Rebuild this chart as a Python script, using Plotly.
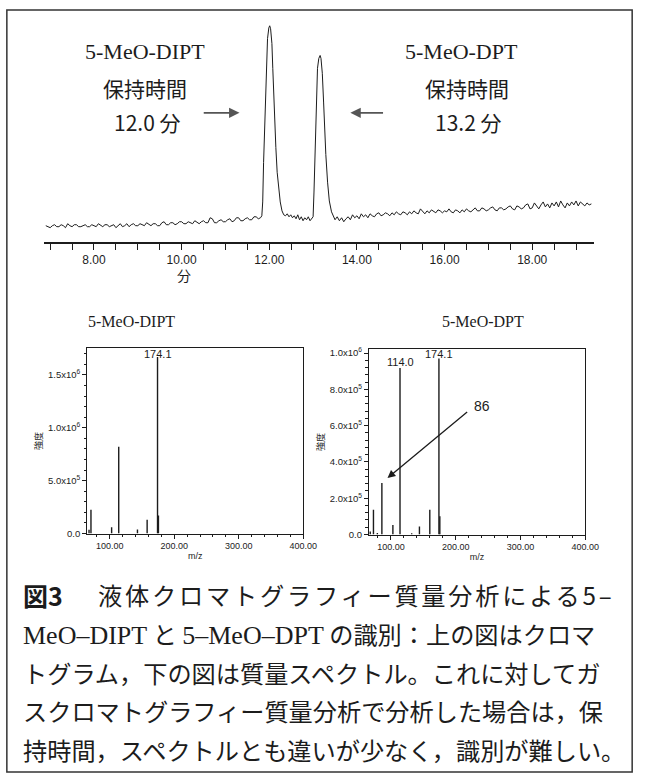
import plotly.graph_objects as go

W, H = 654, 782

# ---------------- data ----------------
# chromatogram: retention time (min) and signal (arbitrary units)
chrom_time = [
    6.90, 6.95, 7.00, 7.05, 7.10, 7.15, 7.20, 7.25, 7.30, 7.35,
    7.40, 7.45, 7.50, 7.55, 7.60, 7.65, 7.70, 7.75, 7.80, 7.85,
    7.90, 7.95, 8.00, 8.05, 8.10, 8.15, 8.20, 8.25, 8.30, 8.35,
    8.40, 8.45, 8.50, 8.55, 8.60, 8.65, 8.70, 8.75, 8.80, 8.85,
    8.90, 8.95, 9.00, 9.05, 9.10, 9.15, 9.20, 9.25, 9.30, 9.35,
    9.40, 9.45, 9.50, 9.55, 9.60, 9.65, 9.70, 9.75, 9.80, 9.85,
    9.90, 9.95, 10.00, 10.05, 10.10, 10.15, 10.20, 10.25, 10.30, 10.35,
    10.40, 10.45, 10.50, 10.55, 10.60, 10.65, 10.70, 10.75, 10.80, 10.85,
    10.90, 10.95, 11.00, 11.05, 11.10, 11.15, 11.20, 11.25, 11.30, 11.35,
    11.40, 11.45, 11.50, 11.55, 11.60, 11.65, 11.70, 11.75, 11.80,
    11.83, 11.85, 11.87, 11.90, 11.93, 11.96, 11.99, 12.01, 12.03, 12.06,
    12.08, 12.10, 12.12, 12.15, 12.18, 12.21, 12.25, 12.29, 12.33,
    12.37, 12.41, 12.45, 12.49, 12.53, 12.57, 12.61, 12.65, 12.69, 12.73,
    12.77, 12.81, 12.85, 12.89, 12.93, 12.97,
    13.00, 13.02, 13.04, 13.07, 13.10, 13.13, 13.16, 13.18, 13.21, 13.24,
    13.27, 13.29, 13.33, 13.37, 13.42, 13.46,
    13.50, 13.55, 13.60, 13.65, 13.70, 13.75, 13.80, 13.85, 13.90, 13.95,
    14.00, 14.05, 14.10, 14.15, 14.20, 14.25, 14.30, 14.35, 14.40, 14.45,
    14.50, 14.55, 14.60, 14.65, 14.70, 14.75, 14.80, 14.85, 14.90, 14.95,
    15.00, 15.05, 15.10, 15.15, 15.20, 15.25, 15.30, 15.35, 15.40, 15.45,
    15.50, 15.55, 15.60, 15.65, 15.70, 15.75, 15.80, 15.85, 15.90, 15.95,
    16.00, 16.05, 16.10, 16.15, 16.20, 16.25, 16.30, 16.35, 16.40, 16.45,
    16.50, 16.55, 16.60, 16.65, 16.70, 16.75, 16.80, 16.85, 16.90, 16.95,
    17.00, 17.05, 17.10, 17.15, 17.20, 17.25, 17.30, 17.35, 17.40, 17.45,
    17.50, 17.55, 17.60, 17.65, 17.70, 17.75, 17.80, 17.85, 17.90, 17.95,
    18.00, 18.05, 18.10, 18.15, 18.20, 18.25, 18.30, 18.35, 18.40, 18.45,
    18.50, 18.55, 18.60, 18.65, 18.70, 18.75, 18.80, 18.85, 18.90, 18.95,
    19.00, 19.05, 19.10, 19.15, 19.20, 19.25, 19.30, 19.35,
]
chrom_signal = [
    16, 15, 14, 16, 17, 15, 15, 17, 16, 14,
    18, 16, 15, 17, 17, 15, 15, 16, 17, 15,
    15, 17, 16, 15, 18, 16, 15, 17, 17, 15,
    16, 17, 14, 16, 18, 15, 16, 18, 15, 17,
    18, 16, 16, 18, 17, 16, 19, 17, 16, 18,
    18, 16, 16, 19, 20, 17, 17, 19, 19, 17,
    18, 20, 20, 18, 18, 20, 19, 18, 21, 19,
    18, 20, 21, 19, 19, 24, 23, 19, 19, 21,
    22, 20, 20, 22, 23, 20, 21, 24, 24, 21,
    21, 23, 24, 22, 22, 25, 25, 23, 24,
    26, 40, 80, 121, 170, 205, 216, 218, 215, 200,
    175, 145, 121, 95, 70, 54, 40, 31, 27,
    26, 28, 25, 27, 24, 26, 23, 27, 22, 25,
    21, 24, 22, 25, 21, 24,
    25, 50, 88, 140, 175, 185, 188, 185, 170, 140,
    105, 88, 60, 41, 30, 26,
    22, 25, 21, 24, 20, 23, 25, 22, 27, 24,
    26, 23, 28, 25, 27, 24, 28, 26, 25, 28,
    29, 26, 27, 29, 28, 26, 29, 27, 30, 28,
    27, 30, 29, 27, 30, 28, 31, 29, 28, 33,
    30, 28, 31, 29, 32, 30, 29, 32, 31, 29,
    31, 30, 33, 30, 29, 32, 31, 29, 32, 30,
    33, 31, 30, 32, 34, 31, 31, 34, 33, 31,
    32, 34, 35, 32, 31, 34, 34, 32, 33, 35,
    36, 33, 32, 36, 35, 33, 34, 37, 38, 33,
    34, 39, 36, 33, 37, 40, 35, 38, 34, 39,
    36, 40, 35, 41, 37, 34, 39, 36, 40, 37,
    41, 36, 40, 38, 36, 39, 37, 38,
]
chrom_tickvals = [8, 10, 12, 14, 16, 18]
chrom_ticktext = ["8.00", "10.00", "12.00", "14.00", "16.00", "18.00"]

# mass spectra (m/z, intensity)
dipt_mz = [68, 71, 103, 114, 143, 158, 174.1, 175.5]
dipt_int = [3.5e4, 2.25e5, 6.0e4, 8.2e5, 3.8e4, 1.3e5, 1.67e6, 1.7e5]

dpt_mz = [68, 73, 79, 86, 103, 114, 132, 144, 160, 174.1, 175.5]
dpt_int = [1.6e4, 1.36e5, 8e3, 2.84e5, 5.3e4, 9.18e5, 7e3, 4.4e4, 1.36e5, 9.7e5, 1.0e5]

ms_tickvals = [100, 200, 300, 400]
ms_ticktext = ["100.00", "200.00", "300.00", "400.00"]
dipt_yvals = [0, 5e5, 1e6, 1.5e6]
dipt_ytext = ["0.0", "5.0x10<sup>5</sup>", "1.0x10<sup>6</sup>", "1.5x10<sup>6</sup>"]
dpt_yvals = [0, 2e5, 4e5, 6e5, 8e5, 1e6]
dpt_ytext = ["0.0", "2.0x10<sup>5</sup>", "4.0x10<sup>5</sup>", "6.0x10<sup>5</sup>",
             "8.0x10<sup>5</sup>", "1.0x10<sup>6</sup>"]

caption_head = "図3"
caption_lines = [
    "液体クロマトグラフィー質量分析による5–",
    "<span style='font-family:Liberation Serif;font-size:26px'>MeO–DIPT</span> と "
    "<span style='font-family:Liberation Serif;font-size:26px'>5–MeO–DPT</span> の識別：上の図はクロマ",
    "トグラム，下の図は質量スペクトル。これに対してガ",
    "スクロマトグラフィー質量分析で分析した場合は，保",
    "持時間，スペクトルとも違いが少なく，識別が難しい。",
]

# ---------------- helpers ----------------
def px(x):
    return x / W


def py(y):
    return 1 - y / H


def sticks(mz, inten):
    xs, ys = [], []
    for m, v in zip(mz, inten):
        xs += [m, m, None]
        ys += [0, v, None]
    return xs, ys


INK = "#1c1c1c"
SANS = "Liberation Sans, Arial, sans-serif"
NARROW = "Liberation Sans Narrow, Arial Narrow, Liberation Sans, sans-serif"
SERIF = "Liberation Serif, Times New Roman, serif"
CJK = "Noto Sans CJK JP, Noto Sans, sans-serif"
CAP = 24.2

fig = go.Figure()

fig.add_trace(go.Scatter(x=chrom_time, y=chrom_signal, mode="lines",
                         line=dict(color=INK, width=1), xaxis="x", yaxis="y",
                         hoverinfo="skip", showlegend=False))
sx, sy = sticks(dipt_mz, dipt_int)
fig.add_trace(go.Scatter(x=sx, y=sy, mode="lines", line=dict(color=INK, width=1.4),
                         xaxis="x2", yaxis="y2", hoverinfo="skip", showlegend=False))
sx, sy = sticks(dpt_mz, dpt_int)
fig.add_trace(go.Scatter(x=sx, y=sy, mode="lines", line=dict(color=INK, width=1.4),
                         xaxis="x3", yaxis="y3", hoverinfo="skip", showlegend=False))


def ms_xaxis(dom, anchor, rng):
    return dict(domain=dom, anchor=anchor, range=rng, showline=True, mirror=True,
                linecolor=INK, linewidth=1, ticks="outside", ticklen=4, tickwidth=1,
                tickcolor=INK, tickvals=ms_tickvals, ticktext=ms_ticktext,
                tickfont=dict(family=NARROW, size=9, color=INK),
                showgrid=False, zeroline=False,
                minor=dict(dtick=20, tick0=0, ticks="outside", ticklen=2.5,
                           tickcolor=INK, showgrid=False),
                title=dict(text="m/z", font=dict(family=SANS, size=9, color=INK),
                           standoff=2))


def ms_yaxis(dom, anchor, rng, vals, texts, minor_dt):
    return dict(domain=dom, anchor=anchor, range=rng, showline=True, mirror=True,
                linecolor=INK, linewidth=1, ticks="outside", ticklen=4, tickwidth=1,
                tickcolor=INK, tickvals=vals, ticktext=texts,
                tickfont=dict(family=SANS, size=9.5, color=INK),
                showgrid=False, zeroline=False,
                minor=dict(dtick=minor_dt, tick0=0, ticks="outside", ticklen=2.5,
                           tickcolor=INK, showgrid=False),
                title=dict(text="強度", font=dict(family=CJK, size=9, color=INK),
                           standoff=3))


def label(x, y, text, family, size, xanchor="center", yanchor="middle"):
    return dict(x=px(x), y=py(y), xref="paper", yref="paper", text=text,
                showarrow=False, xanchor=xanchor, yanchor=yanchor,
                font=dict(family=family, size=size, color=INK))


annotations = []

# chromatogram labels
annotations += [
    label(148, 49, "5-MeO-DIPT", SERIF, 22),
    label(148, 86, "保持時間", CJK, 21),
    label(151, 120, "12.0 分", CJK, 21),
    label(472, 49, "5-MeO-DPT", SERIF, 22),
    label(477, 86, "保持時間", CJK, 21),
    label(479, 120, "13.2 分", CJK, 21),
    label(188, 275, "分", CJK, 14),
]

# chromatogram arrows
annotations.append(dict(x=11.32, y=130, xref="x", yref="y", ax=10.47, ay=130,
                        axref="x", ayref="y", text="", showarrow=True, arrowhead=2,
                        arrowsize=1.3, arrowwidth=1.6, arrowcolor="#555"))
annotations.append(dict(x=13.85, y=130, xref="x", yref="y", ax=14.63, ay=130,
                        axref="x", ayref="y", text="", showarrow=True, arrowhead=2,
                        arrowsize=1.3, arrowwidth=1.6, arrowcolor="#555"))

# spectra titles
annotations += [
    label(134, 322, "5-MeO-DIPT", SERIF, 16),
    label(494, 322, "5-MeO-DPT", SERIF, 16),
]

# peak labels
for xr, mz, yy, txt in [("x2", 174.1, 355, "174.1"), ("x3", 114, 363, "114.0"),
                        ("x3", 174.1, 355, "174.1")]:
    annotations.append(dict(x=mz, y=py(yy), xref=xr, yref="paper", text=txt,
                            showarrow=False, xanchor="center", yanchor="middle",
                            font=dict(family=SANS, size=11, color=INK)))
# 86 arrow
annotations.append(dict(x=94.7, y=3.11e5, xref="x3", yref="y3", ax=220, ay=6.82e5,
                        axref="x3", ayref="y3", text="", showarrow=True, arrowhead=2,
                        arrowsize=1.2, arrowwidth=1.3, arrowcolor=INK))
annotations.append(dict(x=240, y=7.09e5, xref="x3", yref="y3", text="86",
                        showarrow=False, xanchor="center", yanchor="middle",
                        font=dict(family=SANS, size=14, color=INK)))

# caption
annotations.append(label(21, 598, "<b>" + caption_head + "</b>", CJK, 25, "left"))
annotations.append(label(630, 598,
                         "<span style='letter-spacing:2.8px'>" + caption_lines[0] + "</span>",
                         CJK, CAP, "right"))
for i, line in enumerate(caption_lines[1:]):
    annotations.append(label(21, 637 + 39 * i, line, CJK, CAP, "left"))

shapes = [dict(type="rect", xref="paper", yref="paper", x0=px(7), x1=px(646),
               y0=py(777), y1=py(7), line=dict(color="#333", width=1.5))]

fig.update_layout(
    width=W, height=H, margin=dict(l=0, r=0, t=0, b=0),
    paper_bgcolor="white", plot_bgcolor="white", showlegend=False,
    xaxis=dict(domain=[px(45), px(607)], anchor="y", range=[6.86, 19.41],
               showline=True, linecolor=INK, linewidth=2, ticks="outside", ticklen=6,
               tickwidth=1.2, tickcolor=INK, tickvals=chrom_tickvals,
               ticktext=chrom_ticktext, tickfont=dict(family=SANS, size=12, color=INK),
               showgrid=False, zeroline=False,
               minor=dict(dtick=0.5, tick0=7, ticks="outside", ticklen=6,
                          tickcolor=INK, showgrid=False)),
    yaxis=dict(domain=[py(241), py(15)], anchor="x", range=[0, 226], visible=False),
    xaxis2=ms_xaxis([px(89), px(310)], "y2", [65, 400]),
    yaxis2=ms_yaxis([py(536), py(349)], "x2", [0, 1.75e6], dipt_yvals, dipt_ytext, 1e5),
    xaxis3=ms_xaxis([px(377), px(598)], "y3", [66, 400]),
    yaxis3=ms_yaxis([py(537), py(350)], "x3", [0, 1.02e6], dpt_yvals, dpt_ytext, 4e4),
    annotations=annotations, shapes=shapes,
)

fig.write_html("out.html")
